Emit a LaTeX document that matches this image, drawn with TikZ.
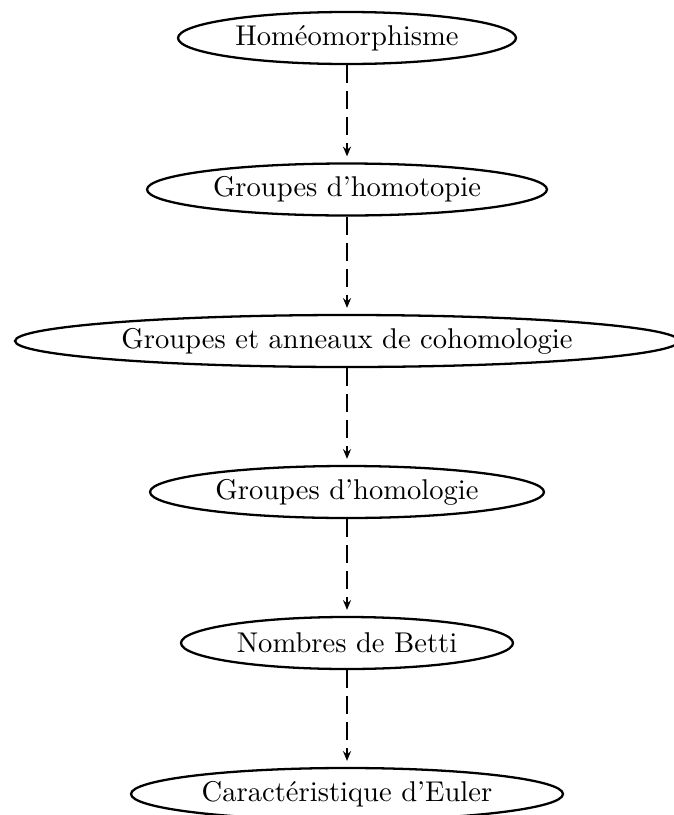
\documentclass[tikz,border=0pt]{standalone}
\usetikzlibrary{shapes.geometric,arrows.meta}
\begin{document}
\begin{tikzpicture}[x=0.35pt,y=-0.35pt,
  elnode/.style={ellipse,draw,line width=0.8pt,inner sep=0pt,minimum height=18.2pt,font=\fontsize{10}{12}\selectfont},
  flow/.style={line width=0.8pt,dash pattern=on 6.3pt off 2.8pt,shorten >=2.1pt,-{Stealth[length=3.4pt,width=2.8pt]}}]
\useasboundingbox (0,0) rectangle (674,815);
\node[elnode,minimum width=118.3pt] (a) at (347,38) {Homéomorphisme};
\node[elnode,minimum width=140pt] (b) at (347,189.5) {Groupes d'homotopie};
\node[elnode,minimum width=232.4pt] (c) at (347,341) {Groupes et anneaux de cohomologie};
\node[elnode,minimum width=137.9pt] (d) at (347,492) {Groupes d'homologie};
\node[elnode,minimum width=116.2pt] (e) at (347,643) {Nombres de Betti};
\node[elnode,minimum width=151.2pt] (f) at (347,794) {Caractéristique d'Euler};
\draw[flow] (a) -- (b);
\draw[flow] (b) -- (c);
\draw[flow] (c) -- (d);
\draw[flow] (d) -- (e);
\draw[flow] (e) -- (f);
\end{tikzpicture}
\end{document}
